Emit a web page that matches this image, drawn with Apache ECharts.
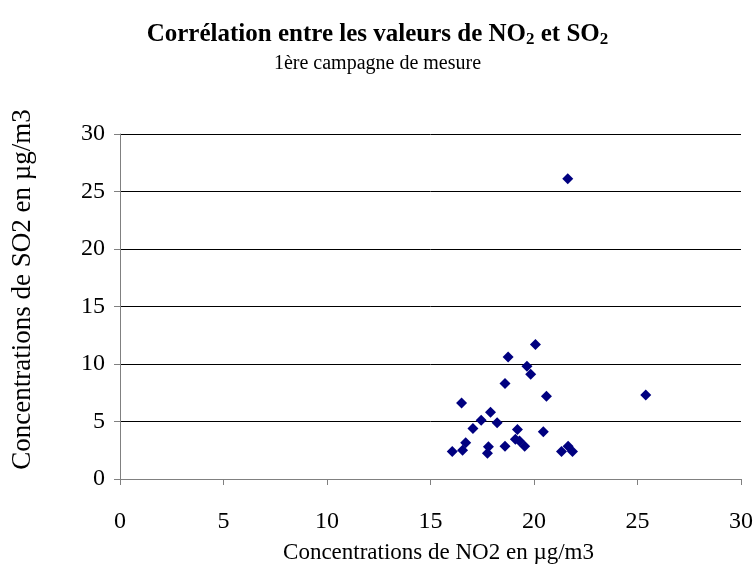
<!DOCTYPE html>
<html>
<head>
<meta charset="utf-8">
<script src="https://cdn.jsdelivr.net/npm/echarts@6/dist/echarts.min.js"></script>
<style>
html,body{margin:0;padding:0;background:#fff;}
#chart{width:755px;height:566px;}
</style>
</head>
<body>
<div id="chart"></div>
<script>
var no2Values = [20.07, 18.75, 19.66, 19.84, 18.6, 25.4, 20.6, 16.5, 17.9, 17.45, 18.22, 17.05, 19.2, 20.45, 19.1, 19.3, 16.7, 19.55, 18.6, 17.8, 16.55, 16.05, 17.75, 21.65, 21.33, 21.86, 21.63];
var so2Values = [11.7, 10.6, 9.8, 9.1, 8.3, 7.3, 7.2, 6.6, 5.8, 5.1, 4.9, 4.4, 4.3, 4.1, 3.45, 3.3, 3.15, 2.85, 2.85, 2.8, 2.5, 2.4, 2.25, 2.85, 2.4, 2.4, 26.1];
var axisTicks = [0, 5, 10, 15, 20, 25, 30];

var points = no2Values.map(function (x, i) { return [x, so2Values[i]]; });
var font = 'Liberation Serif';

var chart = echarts.init(document.getElementById('chart'), null, {renderer: 'canvas'});
chart.setOption({
  backgroundColor: '#ffffff',
  animation: false,
  title: [{
    text: 'Corrélation entre les valeurs de NO{sub|2} et SO{sub|2}',
    left: 'center',
    top: 17,
    padding: [5, 5, 5, 21],
    textStyle: {
      fontFamily: font, fontSize: 25, fontWeight: 'bold', color: '#000',
      rich: {
        sub: {fontFamily: font, fontSize: 17, fontWeight: 'bold', color: '#000', padding: [9, 0, 0, 0]}
      }
    }
  }, {
    text: '1ère campagne de mesure',
    left: 'center',
    top: 49,
    padding: [5, 5, 5, 21],
    textStyle: {fontFamily: font, fontSize: 20, fontWeight: 'normal', color: '#000'}
  }],
  grid: {left: 120, right: 14, top: 134, bottom: 87, containLabel: false, outerBoundsMode: 'none'},
  xAxis: {
    type: 'value',
    min: axisTicks[0], max: axisTicks[axisTicks.length - 1], interval: 5,
    name: 'Concentrations de NO2 en µg/m3',
    nameLocation: 'middle',
    nameGap: 62,
    nameTextStyle: {fontFamily: font, fontSize: 23, color: '#000', padding: [0, 0, 0, 16]},
    axisLine: {show: true, lineStyle: {color: '#808080', width: 1}},
    axisTick: {show: true, length: 6, lineStyle: {color: '#808080'}},
    axisLabel: {fontFamily: font, fontSize: 24, color: '#000', margin: 31},
    splitLine: {show: false}
  },
  yAxis: {
    type: 'value',
    min: axisTicks[0], max: axisTicks[axisTicks.length - 1], interval: 5,
    name: 'Concentrations de SO2 en µg/m3',
    nameLocation: 'middle',
    nameGap: 84,
    nameRotate: 90,
    nameTextStyle: {fontFamily: font, fontSize: 27, color: '#000', padding: [0, 0, 0, 34]},
    axisLine: {show: true, lineStyle: {color: '#808080', width: 1}},
    axisTick: {show: true, length: 6, lineStyle: {color: '#808080'}},
    axisLabel: {fontFamily: font, fontSize: 24, color: '#000', margin: 15},
    splitLine: {show: true, lineStyle: {color: '#000', width: 1}}
  },
  series: [{
    type: 'scatter',
    data: points,
    symbol: 'diamond',
    symbolSize: 11,
    itemStyle: {color: '#000080', opacity: 1}
  }]
});
</script>
</body>
</html>
